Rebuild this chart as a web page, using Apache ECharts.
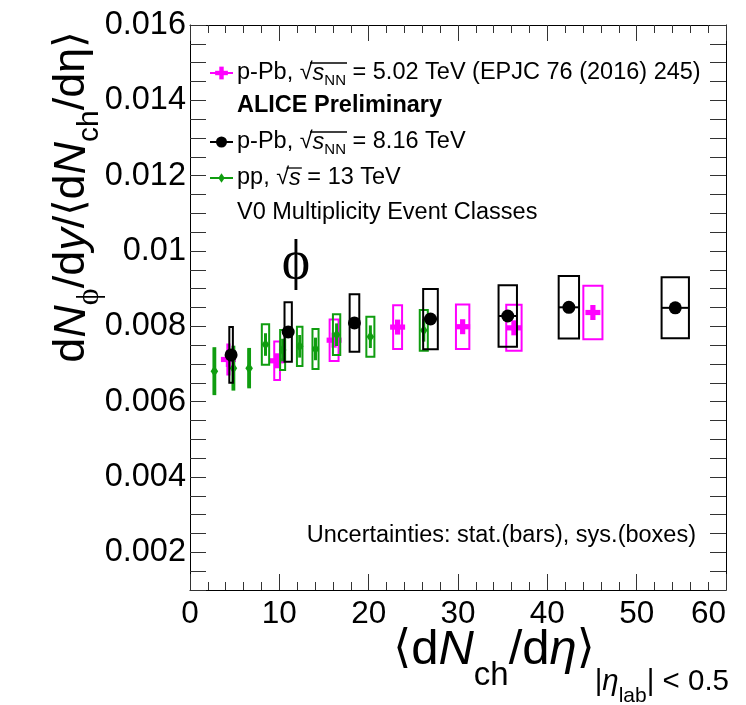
<!DOCTYPE html>
<html lang="en">
<head>
<meta charset="UTF-8"/>
<script src="https://cdn.jsdelivr.net/npm/echarts@6/dist/echarts.min.js"></script>
<title>phi yield ratio</title>
<style>html,body{margin:0;padding:0;background:#fff;}</style>
</head>
<body>
<div id="main" style="width:746px;height:705px;"></div>
<script type="text/javascript">
// p-Pb 5.02 TeV (EPJC 76 (2016) 245)
var pPb502X    = [4.3, 9.75, 16.13, 23.24, 30.52, 36.26, 45.1];
var pPb502Y    = [0.00712, 0.007085, 0.007632, 0.00798, 0.00799, 0.00796, 0.008367];
var pPb502Stat = [0.00015, 0.00015, 0.00015, 0.00015, 0.00015, 0.00015, 0.00015];
var pPb502SysX = [0.12, 0.32, 0.5, 0.5, 0.75, 0.86, 1.07];
var pPb502SysY = [0.0004, 0.00051, 0.00055, 0.00058, 0.00059, 0.00061, 0.00071];

// p-Pb 8.16 TeV
var pPb816X    = [4.6, 10.99, 18.41, 26.92, 35.57, 42.41, 54.32];
var pPb816Y    = [0.00724, 0.007849, 0.00809, 0.008194, 0.008274, 0.008505, 0.008491];
var pPb816Stat = [0.0001, 0.0001, 0.0001, 0.0001, 0.0001, 0.0001, 0.0001];
var pPb816SysX = [0.2, 0.41, 0.54, 0.82, 1.03, 1.14, 1.53];
var pPb816SysY = [0.00074, 0.00079, 0.000765, 0.0008, 0.000815, 0.00083, 0.00081];

// pp 13 TeV
var pp13X    = [2.73, 4.86, 6.62, 8.45, 10.37, 12.28, 14.05, 16.41, 20.19, 26.17];
var pp13Y    = [0.00681, 0.00689, 0.00689, 0.007517, 0.00737, 0.00747, 0.0074, 0.007778, 0.007725, 0.007894];
var pp13Stat = [0.00061, 0.00057, 0.00051, 0.0003, 0.0003, 0.0003, 0.0003, 0.0003, 0.0003, 0.0003];
var pp13SysX = [0.1, 0.1, 0.1, 0.41, 0.28, 0.31, 0.34, 0.41, 0.45, 0.45];
var pp13SysY = [0.00061, 0.00057, 0.00051, 0.00054, 0.00053, 0.00052, 0.00053, 0.00054, 0.00053, 0.00054];

var xTicks = [0, 10, 20, 30, 40, 50, 60];
var yMajor = [0.002, 0.004, 0.006, 0.008, 0.010, 0.012, 0.014, 0.016];

var MAGENTA = '#ff00ff', BLACK = '#000000', GREEN = '#109d10';
var FONT = '"Liberation Sans", Arial, Helvetica, sans-serif';
var SERIF = '"Liberation Serif", "DejaVu Serif", serif';

function pack(xs, ys, st, sx, sy) {
    var out = [];
    for (var i = 0; i < xs.length; i++) out.push([xs[i], ys[i], st[i], sx[i], sy[i]]);
    return out;
}

function markerShape(kind, cx, cy, color, k) {
    k = k || 1;
    if (kind === 'circle') {
        return {type: 'circle', shape: {cx: cx, cy: cy, r: 6.5 * k}, style: {fill: color}};
    }
    if (kind === 'diamond') {
        return {type: 'polygon', shape: {points: [[cx, cy - 5.5 * k], [cx + 3.8 * k, cy], [cx, cy + 5.5 * k], [cx - 3.8 * k, cy]]},
            style: {fill: color}};
    }
    // thick cross
    return {type: 'group', children: [
        {type: 'rect', shape: {x: cx - 7.5 * k, y: cy - 2.6 * k, width: 15 * k, height: 5.2 * k}, style: {fill: color}},
        {type: 'rect', shape: {x: cx - 2.6 * k, y: cy - 7.5 * k, width: 5.2 * k, height: 15 * k}, style: {fill: color}}
    ]};
}

function makeRender(kind, color, withXLine) {
    return function (params, api) {
        var x = api.value(0), y = api.value(1), st = api.value(2), sx = api.value(3), sy = api.value(4);
        var c = api.coord([x, y]);
        var p1 = api.coord([x - sx, y + sy]);
        var p2 = api.coord([x + sx, y - sy]);
        var s1 = api.coord([x, y + st]);
        var s2 = api.coord([x, y - st]);
        var kids = [
            {type: 'rect', shape: {x: p1[0], y: p1[1], width: p2[0] - p1[0], height: p2[1] - p1[1]},
                style: {fill: 'transparent', stroke: color, lineWidth: 2}},
            {type: 'line', shape: {x1: s1[0], y1: s1[1], x2: s2[0], y2: s2[1]},
                style: {stroke: color, lineWidth: 3}}
        ];
        if (withXLine) {
            kids.push({type: 'line', shape: {x1: p1[0], y1: c[1], x2: p2[0], y2: c[1]},
                style: {stroke: color, lineWidth: 2}});
        }
        kids.push(markerShape(kind, c[0], c[1], color));
        return {type: 'group', children: kids};
    };
}

// text width helper for placing the sqrt overlines
var mctx = document.createElement('canvas').getContext('2d');
function tw(s, font) { mctx.font = font; return mctx.measureText(s).width; }

var LX = 237, LF = 23.5, LS = 15;
var legRich = {
    t: {fontFamily: FONT, fontSize: LF, padding: [0, 0, 3.5, 0], verticalAlign: 'bottom', color: '#000'},
    i: {fontFamily: FONT, fontSize: LF, fontStyle: 'italic', padding: [0, 0, 3.5, 0], verticalAlign: 'bottom', color: '#000'},
    sub: {fontFamily: FONT, fontSize: LS, padding: [0, 0, 0, 0], verticalAlign: 'bottom', color: '#000'}
};

function overline(pre, hasSub, rowY) {
    var f = LF + 'px ' + FONT;
    var w0 = tw(pre, f), wr = tw('√', f);
    var x1 = LX + w0 + wr * 0.8;
    var x2 = LX + w0 + wr + tw('s', 'italic ' + f) + (hasSub ? tw('NN', LS + 'px ' + FONT) : 0) + 1;
    var y = rowY - 11.5;
    return {type: 'line', shape: {x1: x1, y1: y, x2: x2, y2: y}, style: {stroke: '#000', lineWidth: 1.3}, z: 10};
}

function legendMark(kind, color, y) {
    return {type: 'group', z: 10, children: [
        {type: 'line', shape: {x1: 210, y1: y, x2: 233, y2: y}, style: {stroke: color, lineWidth: 2}},
        markerShape(kind, 221.5, y, color, 0.85)
    ]};
}

function legendRow(text, y) {
    return {type: 'text', x: LX, y: y + 1.5, z: 10, style: {
        text: text, rich: legRich, verticalAlign: 'middle', align: 'left'}};
}

// x-axis title pieces (padding bottom sets the subscript offsets)
var xRich = {
    b: {fontFamily: FONT, fontSize: 49, padding: [0, 0, 32, 0], verticalAlign: 'bottom', color: '#000'},
    bi: {fontFamily: FONT, fontSize: 49, fontStyle: 'italic', padding: [0, 0, 32, 0], verticalAlign: 'bottom', color: '#000'},
    ang: {fontFamily: '"DejaVu Sans", sans-serif', fontSize: 46, padding: [0, 0, 33.5, 0], verticalAlign: 'bottom', color: '#000'},
    ch: {fontFamily: FONT, fontSize: 33, padding: [0, 0, 15, 0], verticalAlign: 'bottom', color: '#000'},
    r: {fontFamily: FONT, fontSize: 29.5, padding: [0, 0, 10, 0], verticalAlign: 'bottom', color: '#000'},
    ri: {fontFamily: FONT, fontSize: 29.5, fontStyle: 'italic', padding: [0, 0, 10, 0], verticalAlign: 'bottom', color: '#000'},
    lab: {fontFamily: FONT, fontSize: 21, padding: [0, 0, 0, 0], verticalAlign: 'bottom', color: '#000'}
};
// y-axis title pieces
var yRich = {
    b: {fontFamily: FONT, fontSize: 45, padding: [0, 0, 20, 0], verticalAlign: 'bottom', color: '#000'},
    bi: {fontFamily: FONT, fontSize: 45, fontStyle: 'italic', padding: [0, 0, 20, 0], verticalAlign: 'bottom', color: '#000'},
    ang: {fontFamily: '"DejaVu Sans", sans-serif', fontSize: 42, padding: [0, 0, 21.5, 0], verticalAlign: 'bottom', color: '#000'},
    ch: {fontFamily: FONT, fontSize: 30, padding: [0, 0, 9.5, 0], verticalAlign: 'bottom', color: '#000'},
    phi: {fontFamily: SERIF, fontSize: 32, padding: [0, 0, 9, 0], verticalAlign: 'bottom', color: '#000'}
};

var myChart = echarts.init(document.getElementById('main'));

function tickAxis(pos, isX, major) {
    return {
        type: 'value',
        position: pos,
        min: isX ? 0 : 0.001,
        max: isX ? 60 : 0.016,
        splitLine: {show: false},
        axisLine: {show: major, lineStyle: {color: '#000', width: 1}},
        axisLabel: {show: false},
        axisTick: {show: true, inside: true, length: major ? 16 : 8, lineStyle: {color: '#333', width: 1}}
    };
}

var xBottom = tickAxis('bottom', true, true);
xBottom.interval = 10;
xBottom.minorTick = {show: true, splitNumber: 5, length: 8, lineStyle: {color: '#333', width: 1}};
xBottom.axisLabel = {show: true, fontFamily: FONT, fontSize: 31.5, color: '#000', margin: 8,
    alignMaxLabel: 'right', formatter: function (v) { return xTicks.indexOf(v) >= 0 ? String(v) : ''; }};
var xTop = tickAxis('top', true, true);
xTop.interval = 10;
xTop.minorTick = {show: true, splitNumber: 5, length: 8, lineStyle: {color: '#333', width: 1}};

var yLeftMinor = tickAxis('left', false, true);
yLeftMinor.interval = 0.0005;
yLeftMinor.axisLabel = {show: true, fontFamily: FONT, fontSize: 32.5, color: '#000', margin: 4,
    formatter: function (v) {
        var r = Math.round(v * 10000);
        if (r % 20 !== 0) return '';
        return String(r / 10000);
    }};
var yLeftMajor = tickAxis('left', false, false);
yLeftMajor.axisTick.customValues = yMajor;
var yRightMinor = tickAxis('right', false, true);
yRightMinor.interval = 0.0005;
var yRightMajor = tickAxis('right', false, false);
yRightMajor.axisTick.customValues = yMajor;

var option = {
    backgroundColor: '#ffffff',
    animation: false,
    grid: {left: 190, right: 20, top: 25, bottom: 115, containLabel: false},
    xAxis: [xBottom, xTop],
    yAxis: [yLeftMinor, yLeftMajor, yRightMinor, yRightMajor],
    series: [
        {
            name: 'p-Pb 5.02 TeV', type: 'custom', xAxisIndex: 0, yAxisIndex: 0, z: 2,
            renderItem: makeRender('cross', MAGENTA, false),
            encode: {x: 0, y: 1},
            data: pack(pPb502X, pPb502Y, pPb502Stat, pPb502SysX, pPb502SysY)
        },
        {
            name: 'pp 13 TeV', type: 'custom', xAxisIndex: 0, yAxisIndex: 0, z: 3,
            renderItem: makeRender('diamond', GREEN, false),
            encode: {x: 0, y: 1},
            data: pack(pp13X, pp13Y, pp13Stat, pp13SysX, pp13SysY)
        },
        {
            name: 'p-Pb 8.16 TeV', type: 'custom', xAxisIndex: 0, yAxisIndex: 0, z: 4,
            renderItem: makeRender('circle', BLACK, true),
            encode: {x: 0, y: 1},
            data: pack(pPb816X, pPb816Y, pPb816Stat, pPb816SysX, pPb816SysY)
        }
    ],
    graphic: [
        // legend
        legendMark('cross', MAGENTA, 73),
        legendRow('{t|p-Pb, √}{i|s}{sub|NN}{t| = 5.02 TeV (EPJC 76 (2016) 245)}', 73),
        overline('p-Pb, ', true, 74.5),
        {type: 'text', x: LX, y: 106, z: 10, style: {
            text: 'ALICE Preliminary', fontFamily: FONT, fontSize: LF, fontWeight: 'bold', fill: '#000',
            verticalAlign: 'middle', align: 'left'}},
        legendMark('circle', BLACK, 142),
        legendRow('{t|p-Pb, √}{i|s}{sub|NN}{t| = 8.16 TeV}', 142),
        overline('p-Pb, ', true, 143.5),
        legendMark('diamond', GREEN, 178),
        legendRow('{t|pp, √}{i|s}{t| = 13 TeV}', 178),
        overline('pp, ', false, 179.5),
        {type: 'text', x: LX, y: 213, z: 10, style: {
            text: 'V0 Multiplicity Event Classes', fontFamily: FONT, fontSize: LF, fill: '#000',
            verticalAlign: 'middle', align: 'left'}},
        {type: 'text', x: 696, y: 536, z: 10, style: {
            text: 'Uncertainties: stat.(bars), sys.(boxes)', fontFamily: FONT, fontSize: LF, fill: '#000',
            verticalAlign: 'middle', align: 'right'}},
        // particle label
        {type: 'text', x: 296, y: 264, z: 10, style: {
            text: 'ϕ', fontFamily: SERIF, fontSize: 54, fill: '#000',
            verticalAlign: 'middle', align: 'center'}},
        // x-axis title
        {type: 'text', x: 729, y: 707, z: 10, style: {
            text: '{ang|⟨}{b|d}{bi|N}{ch|ch}{b|/d}{bi|η}{ang|⟩}{r||}{ri|η}{lab|lab}{r|| < 0.5}',
            rich: xRich, verticalAlign: 'bottom', align: 'right'}},
        // y-axis title
        {type: 'text', x: 114.5, y: 197, rotation: Math.PI / 2, z: 10, style: {
            text: '{b|d}{bi|N}{phi|ϕ}{b|/d}{bi|y}{b|/}{ang|⟨}{b|d}{bi|N}{ch|ch}{b|/d}{b|η}{ang|⟩}',
            rich: yRich, verticalAlign: 'bottom', align: 'center'}}
    ]
};

myChart.setOption(option);
</script>
</body>
</html>
